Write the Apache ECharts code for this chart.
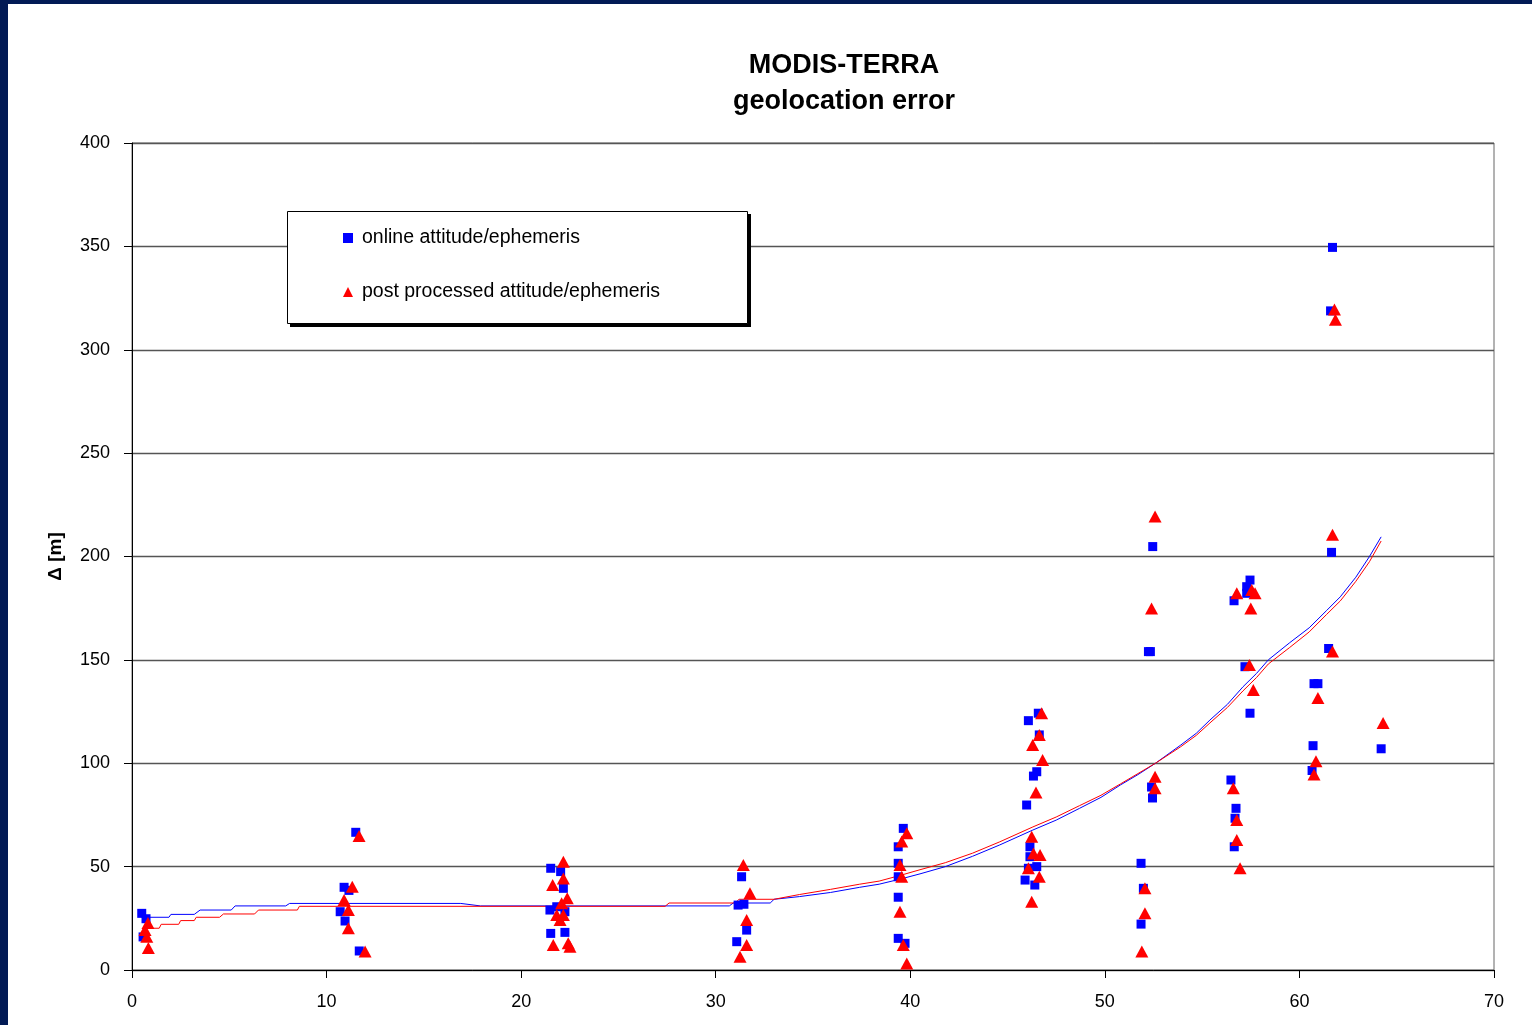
<!DOCTYPE html>
<html><head><meta charset="utf-8">
<script src="https://cdn.jsdelivr.net/npm/echarts@6/dist/echarts.min.js"></script>
<style>
html,body{margin:0;padding:0;background:#fff;overflow:hidden;}
#c{position:absolute;left:0;top:0;width:1532px;height:1025px;}
.bt{position:absolute;left:0;top:0;width:1532px;height:4px;background:#021a55;}
.bl{position:absolute;left:0;top:0;width:8px;height:1025px;background:#021a55;}
</style></head>
<body><div id="c"></div><div class="bt"></div><div class="bl"></div>
<script>
var titleLines = ['MODIS-TERRA', 'geolocation error'];
var yAxisName = 'Δ [m]';
var seriesNames = ['online attitude/ephemeris', 'post processed attitude/ephemeris'];
var xTicks = [0, 10, 20, 30, 40, 50, 60, 70];
var yTicks = [0, 50, 100, 150, 200, 250, 300, 350, 400];

var onlinePoints = [
 [0.5,27.4],[0.72,24.8],[0.57,16.0],
 [11.5,66.6],[10.9,40],[11.15,38.5],[10.7,28.2],[10.95,23.7],[11.68,9.2],
 [21.52,49.2],[22.03,47.6],[22.17,39.5],[21.83,30.6],[21.48,29],[22.25,28.2],[21.52,17.7],[22.25,18.2],
 [31.33,45.1],[31.15,31.4],[31.45,31.8],[31.59,19.3],[31.08,13.7],
 [39.64,68.5],[39.38,59.6],[39.38,51.6],[39.38,45.1],[39.38,35.2],[39.38,15.3],[39.73,12.9],
 [46.58,124.2],[46.07,120.6],[46.63,113.7],[46.5,95.9],[46.33,93.8],[45.98,79.8],[46.15,59.6],[46.15,54.8],[46.07,49.2],[46.5,50],[45.9,43.5],[46.4,41.1],
 [52.46,204.8],[52.24,154],[52.34,154],[52.4,88.5],[52.45,83.2],[51.86,51.6],[51.98,39.5],[51.86,22.2],
 [57.46,188.6],[57.29,185.4],[57.29,182.2],[56.64,178.6],[57.2,146.7],[57.46,124.2],[56.48,91.9],[56.74,78.2],[56.69,73.4],[56.65,59.6],
 [61.7,349.5],[61.6,318.8],[61.65,202],[61.5,155.5],[60.75,138.5],[60.95,138.5],[60.7,108.5],[60.65,96.5],[64.2,107]
];
var postPoints = [
 [0.82,22.7],[0.67,19.3],[0.76,16.1],[0.84,10.6],
 [11.67,64.8],[11.32,40.3],[10.9,33.9],[11.12,29],[11.12,20.2],[11.98,8.9],
 [22.17,52.4],[22.17,44.3],[21.62,41.1],[22.37,34.7],[22.08,32.3],[21.83,26.6],[22.17,26.6],[22.0,24.2],[21.65,12.1],[22.42,12.9],[22.51,11.3],
 [31.42,50.8],[31.76,37.1],[31.59,24.2],[31.59,12.1],[31.25,6.4],
 [39.82,66.1],[39.56,62.1],[39.47,50.8],[39.56,45.1],[39.47,28.2],[39.64,12.1],[39.82,3.2],
 [46.75,124.2],[46.63,113.7],[46.29,108.8],[46.8,101.6],[46.46,85.8],[46.24,64.5],[46.33,56.4],[46.67,55.6],[46.07,49.2],[46.63,45.1],[46.24,33.0],
 [52.58,219.3],[52.4,174.9],[52.58,93.5],[52.58,87.9],[52.06,39.5],[52.06,27.4],[51.9,8.9],
 [56.78,182.2],[57.55,183.8],[57.72,182.2],[57.5,174.9],[57.43,147.5],[57.63,135.4],[56.6,87.9],[56.78,72.6],[56.78,62.9],[56.95,49.2],
 [61.8,319.5],[61.85,314.5],[61.7,210.5],[61.7,154],[60.95,131.5],[60.85,101],[60.75,94.5],[64.3,119.5]
];
var onlineTrend = [
 [0.5,25.5],[1.9,25.5],[2.0,26.9],[3.2,26.9],[3.5,29],[5.1,29],[5.3,31],[7.9,31],[8.1,32.2],[16.9,32.2],[17.9,31],[30.7,31],
 [30.9,32.4],[32.8,32.4],[33.0,34.2],[34.3,35.5],[35.9,37.5],[37.4,40],[38.4,41.5],[39.5,44],[40.5,46.5],[41.8,50],
 [43.2,55],[44.6,60.5],[46.3,67.7],[47.5,72.5],[48.7,78.2],[49.8,83.5],[50.8,89.5],[51.7,94.5],[52.6,100],[53.9,108.8],
 [54.7,114.5],[55.4,120.9],[56.3,128.5],[57.1,137],[57.8,143.5],[58.4,150],[59.5,158.3],[60.5,165.5],[61.4,173.9],
 [62.1,180.5],[62.9,190],[63.6,200],[64.2,209.5]
];
var postTrend = [
 [0.9,20.2],[1.4,20.2],[1.5,22.1],[2.4,22.1],[2.5,23.9],[3.2,23.9],[3.3,25.5],[4.5,25.5],[4.7,27.1],[6.3,27.1],[6.5,29],[8.5,29],
 [8.6,30.8],[27.4,30.8],[27.6,32.4],[31.0,32.4],[31.2,34.2],[33.0,34.2],[34.3,36.5],[35.9,39],[37.4,41.5],[38.4,43],[39.5,45.8],
 [40.5,48.5],[41.8,51.9],[43.2,56.5],[44.6,62],[46.3,69.2],[47.5,74],[48.7,79.5],[49.8,84.5],[50.8,90],[51.7,95],[52.6,100],
 [53.9,108],[54.7,113.5],[55.4,119.5],[56.3,127],[57.1,135],[57.8,141.5],[58.4,148],[59.5,156],[60.5,163.5],[61.4,172],
 [62.1,178.5],[62.9,188],[63.6,197.5],[64.2,207.5]
];

var FONT = '"Liberation Sans", Arial, sans-serif';
var chart = echarts.init(document.getElementById('c'), null, {renderer: 'canvas'});
chart.setOption({
  animation: false,
  backgroundColor: '#ffffff',
  graphic: [
    {
      type: 'text', left: 843 - 110, top: 48, z: 10,
      style: {text: titleLines.join('\n'), font: 'bold 27px ' + FONT, fill: '#000',
        textAlign: 'center', lineHeight: 36, width: 220}
    },
    {type: 'rect', shape: {x: 290, y: 214, width: 461, height: 113}, style: {fill: '#000'}, z: 1, silent: true},
    {type: 'rect', shape: {x: 287.5, y: 211.5, width: 460, height: 112}, style: {fill: '#fff', stroke: '#000', lineWidth: 1}, z: 2, silent: true}
  ],
  grid: {left: 132, top: 143, right: 38, bottom: 55, show: true, borderColor: '#666', borderWidth: 1, backgroundColor: 'transparent'},
  legend: {
    orient: 'vertical', left: 287, top: 211, z: 20,
    padding: [17, 87, 22, 56], itemGap: 34,
    itemWidth: 10, itemHeight: 10,
    textStyle: {fontFamily: FONT, fontSize: 19.5, color: '#000', padding: [0, 0, 0, 4]},
    data: [{name: seriesNames[0], icon: 'rect'}, {name: seriesNames[1], icon: 'triangle'}]
  },
  xAxis: {
    type: 'value', min: xTicks[0], max: xTicks[xTicks.length - 1], interval: 10,
    axisLine: {show: true, lineStyle: {color: '#000', width: 1}},
    axisTick: {show: true, length: 8, lineStyle: {color: '#000'}},
    axisLabel: {fontFamily: FONT, fontSize: 18, color: '#000', margin: 23},
    splitLine: {show: false}
  },
  yAxis: {
    type: 'value', min: yTicks[0], max: yTicks[yTicks.length - 1], interval: 50,
    name: yAxisName, nameLocation: 'middle', nameRotate: 90, nameGap: 67,
    nameTextStyle: {fontFamily: FONT, fontSize: 19, fontWeight: 'bold', color: '#000'},
    axisLine: {show: true, lineStyle: {color: '#000', width: 1}},
    axisTick: {show: true, length: 8, lineStyle: {color: '#000'}},
    axisLabel: {fontFamily: FONT, fontSize: 18, color: '#000', margin: 22},
    splitLine: {show: true, lineStyle: {color: '#555', width: 1.3}}
  },
  series: [
    {type: 'line', name: 'online trend', data: onlineTrend, showSymbol: false, symbol: 'none',
     lineStyle: {color: '#0000ff', width: 1}, z: 2, silent: true},
    {type: 'line', name: 'post trend', data: postTrend, showSymbol: false, symbol: 'none',
     lineStyle: {color: '#ff0000', width: 1}, z: 3, silent: true},
    {type: 'scatter', name: seriesNames[0], data: onlinePoints, symbol: 'rect', symbolSize: 9,
     itemStyle: {color: '#0000ff', opacity: 1}, z: 4},
    {type: 'scatter', name: seriesNames[1], data: postPoints, symbol: 'triangle', symbolSize: [13, 12],
     itemStyle: {color: '#ff0000', opacity: 1}, z: 5}
  ]
});
</script>
</body></html>
